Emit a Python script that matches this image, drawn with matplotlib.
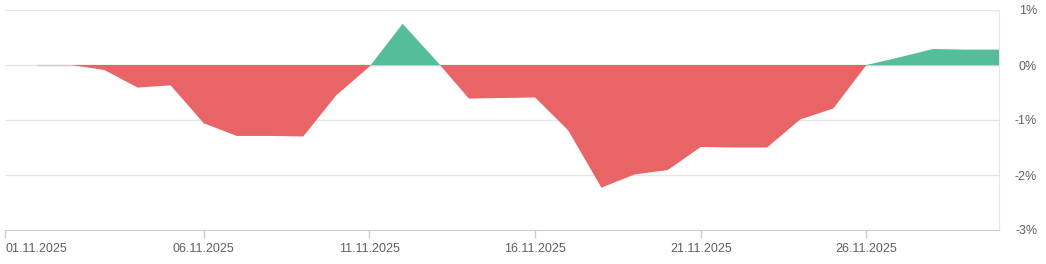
import numpy as np
import pandas as pd
import matplotlib
matplotlib.use('Agg')
import matplotlib.pyplot as plt

# daily performance in %, 01.11.2025 - 30.11.2025
dates = pd.date_range('2025-11-01', '2025-11-30', freq='D')
values = [0.00, 0.00, -0.09, -0.41, -0.37, -1.06, -1.29, -1.29, -1.30, -0.55,
          -0.03, 0.75, 0.09, -0.61, -0.60, -0.59, -1.19, -2.23, -1.99, -1.91,
          -1.49, -1.50, -1.50, -0.99, -0.79, 0.00, 0.14, 0.29, 0.28, 0.28]
y_ticks = [1, 0, -1, -2, -3]
x_tick_days = [0, 5, 10, 15, 20, 25]

plt.rcParams['font.family'] = ['Liberation Sans', 'DejaVu Sans']

x = np.arange(len(values))
y = np.array(values)

fig = plt.figure(figsize=(10.46, 2.64), dpi=100)
ax = fig.add_axes([5 / 1046, 34 / 264, 994 / 1046, 220 / 264])

green = '#55bd9a'
red = '#e86466'
ax.fill_between(x, 0, y, where=y >= 0, interpolate=True, color=green, lw=0, zorder=3)
ax.fill_between(x, 0, y, where=y <= 0, interpolate=True, color=red, lw=0, zorder=3)

# grid
for v in y_ticks[:-1]:
    ax.axhline(v, color='#e6e6e6', lw=1, zorder=1)
ax.plot([x[0], x[-1]], [0, 0], color='#cccccc', lw=1, zorder=2)

ax.set_xlim(-1, 29)
ax.set_ylim(-3, 1)

for s in ['top', 'left']:
    ax.spines[s].set_visible(False)
ax.spines['bottom'].set_color('#cccccc')
ax.spines['right'].set_color('#e6e6e6')

# x ticks: first label sits on the axis start
pos = [-1] + x_tick_days[1:]
ax.set_xticks(pos)
labels = [dates[d].strftime('%d.%m.%Y') for d in x_tick_days]
ax.set_xticklabels(labels)
ax.tick_params(axis='x', colors='#cccccc', length=6, width=1, labelcolor='#606060',
               labelsize=9, pad=3)
ax.get_xticklabels()[0].set_horizontalalignment('left')

ax.yaxis.tick_right()
ax.set_yticks(y_ticks)
ax.set_yticklabels([f'{v}%' for v in y_ticks])
ax.tick_params(axis='y', length=0, labelcolor='#606060', labelsize=9, pad=27.5)
for t in ax.get_yticklabels():
    t.set_horizontalalignment('right')

fig.savefig('out.png', dpi=100)
